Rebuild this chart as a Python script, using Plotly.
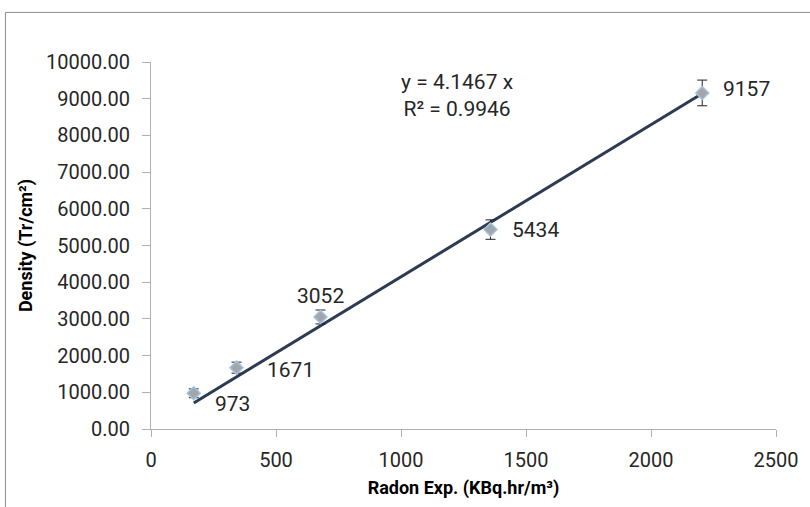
import plotly.graph_objects as go

radon = [171, 342, 678, 1358, 2205]
density = [973, 1671, 3052, 5434, 9157]
err = [120, 150, 190, 265, 350]
labels = ["973", "1671", "3052", "5434", "9157"]
slope = 4.1467
r2 = 0.9946
y_ticks = list(range(0, 10001, 1000))
x_ticks = list(range(0, 2501, 500))

font = "Roboto, 'DejaVu Sans', sans-serif"
fig = go.Figure()

# trendline through origin
xs = [min(radon), max(radon)]
fig.add_trace(go.Scatter(x=xs, y=[slope * v for v in xs], mode="lines",
                         line=dict(color="#2c3a52", width=3), hoverinfo="skip",
                         showlegend=False))

fig.add_trace(go.Scatter(
    x=radon, y=density, mode="markers",
    marker=dict(symbol="diamond", size=10, color="#a5a5a5",
                line=dict(color="#9dc3e6", width=1.5)),
    error_y=dict(type="data", array=err, visible=True, color="#222222",
                 thickness=1, width=5),
    showlegend=False))

# data labels
offsets = [(19, 11, "left"), (28, 2, "left"), (0, -21, "center"), (19, 0, "left"), (19, -4, "left")]
for xv, yv, t, (dx, dy, al) in zip(radon, density, labels, offsets):
    fig.add_annotation(x=xv, y=yv, text=t, showarrow=False, xanchor=al,
                       yanchor="middle", xshift=dx, yshift=-dy,
                       font=dict(size=21, color="#262626", family=font))

fig.add_annotation(xref="paper", yref="paper", x=0.582, y=0.908,
                   text=f"y = {slope} x<br>R² = {r2}", showarrow=False,
                   align="center", xanchor="right", yanchor="middle",
                   font=dict(size=21, color="#262626", family=font))

# chart border (top and left edges visible)
fig.add_shape(type="line", xref="paper", yref="paper", x0=-0.2329, x1=1.1,
              y0=1.1351, y1=1.1351, line=dict(color="#8c8c8c", width=1))
fig.add_shape(type="line", xref="paper", yref="paper", x0=-0.2329, x1=-0.2329,
              y0=-0.3, y1=1.1351, line=dict(color="#8c8c8c", width=1))

fig.update_layout(
    width=810, height=507,
    margin=dict(l=151, r=32, t=62, b=75),
    paper_bgcolor="white", plot_bgcolor="white",
    font=dict(family=font, size=19, color="#262626"),
    xaxis=dict(range=[0, 2500], tickvals=x_ticks, showgrid=False, zeroline=False,
               showline=True, linecolor="#b0b0b0", linewidth=1,
               ticks="outside", ticklen=7, tickcolor="#b0b0b0",
               ticklabelstandoff=6,
               tickfont=dict(size=20, color="#262626"),
               title=dict(text="<b>Radon Exp. (KBq.hr/m³)</b>", standoff=10,
                          font=dict(size=18, color="#000000"))),
    yaxis=dict(range=[0, 10000], tickvals=y_ticks, tickformat=".2f",
               showgrid=False, zeroline=False,
               showline=True, linecolor="#b0b0b0", linewidth=1,
               ticks="outside", ticklen=8, tickcolor="#b0b0b0",
               ticklabelstandoff=8,
               tickfont=dict(size=20, color="#262626"),
               title=dict(text="<b>Density (Tr/cm²)</b>", standoff=8,
                          font=dict(size=18, color="#000000"))),
)

fig.write_html("out.html")
